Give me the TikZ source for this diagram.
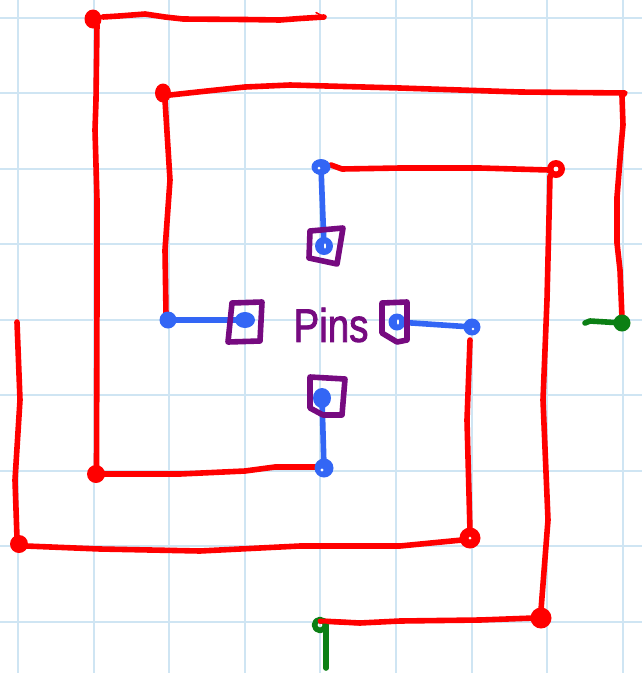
\documentclass[tikz,border=0pt]{standalone}
\usepackage{fontspec}
\setmainfont{Liberation Sans}
\newfontfamily\pinfont[FakeBold=2]{Liberation Sans}
\definecolor{gridc}{HTML}{CFE5F3}
\definecolor{wred}{HTML}{FF0000}
\definecolor{wblue}{HTML}{3366F5}
\definecolor{wpurple}{HTML}{760A80}
\definecolor{wgreen}{HTML}{0B7F14}
\tikzset{
  gridline/.style={draw=gridc,line width=2pt},
  ink/.style={line width=5.6pt,line cap=round,line join=round},
  redwire/.style={ink,draw=wred},
  bluewire/.style={ink,draw=wblue},
  greenwire/.style={ink,draw=wgreen},
  pinbox/.style={ink,draw=wpurple},
  reddot/.style={fill=wred,draw=none},
  bluedot/.style={fill=wblue,draw=none},
  spot/.style={fill=white,draw=none},
}
\begin{document}
\begin{tikzpicture}[x=1pt,y=-1pt]
\useasboundingbox (0,0) rectangle (642,673);
\fill[white] (0,0) rectangle (642,673);
\foreach \gx in {18,94,169,245,320,396,472,547,623} \draw[gridline] (\gx,0) -- (\gx,673);
\foreach \gy in {18,93,169,244,320,395,471,546,622} \draw[gridline] (0,\gy) -- (642,\gy);

\coordinate (a) at (93,19);
\coordinate (b) at (96,474);
\coordinate (c) at (163,93);
\coordinate (d) at (168,320);
\coordinate (e) at (321,167);
\coordinate (f) at (556,169);
\coordinate (g) at (541,618);
\coordinate (h) at (19,544);
\coordinate (i) at (470,538);
\coordinate (j) at (472,327);
\coordinate (k) at (324,468);
\coordinate (m) at (622,323);
\coordinate (n) at (320,625);
\coordinate (pt) at (324,246);
\coordinate (pl) at (245,320);
\coordinate (pr) at (397,322);
\coordinate (pb) at (322,398);

% red wires
\draw[redwire] (103,17) -- (119,16) -- (145,14) -- (165,17) -- (183,19) -- (245,19.5) -- (280,20) -- (300,18.5) -- (324,17);
\draw[redwire,line width=1.5pt] (324,17) -- (316,12.5);
\draw[redwire] (97,25) -- (96,100) -- (95,130) -- (97,200) -- (97,300) -- (96.5,470);
\draw[redwire] (104,474) -- (180,474) -- (245,471) -- (275,467) -- (316,467);
\draw[redwire] (170,95) -- (207,91) -- (245,87) -- (290,85) -- (400,88) -- (520,92) -- (625,93) -- (622,96) -- (623,125) -- (621,147) -- (617,197) -- (617,243) -- (620,270) -- (622,318);
\draw[redwire] (165,100) -- (170,180) -- (165,250) -- (166,314);
\draw[redwire] (331,165) -- (342,169) -- (400,168) -- (480,168) -- (549,170);
\draw[redwire] (550,176) -- (547,300) -- (543,400) -- (548,520) -- (541,610);
\draw[redwire] (534,618) -- (480,620) -- (400,621) -- (360,623) -- (320,621);
\draw[redwire] (17,322) -- (20,400) -- (15,480) -- (17,538);
\draw[redwire] (26,546) -- (100,549) -- (200,551) -- (300,546) -- (400,546) -- (462,540);
\draw[redwire] (470,531) -- (467,420) -- (470,340);

% red dots
\fill[reddot] (a) ellipse (8.5 and 9.5);
\fill[reddot] (b) circle (9);
\fill[reddot] (c) ellipse (8 and 9.5);
\fill[reddot] (h) circle (9);
\fill[reddot] (f) circle (9);
\fill[spot] (f) circle (2.4);
\fill[reddot] (g) circle (10.5);
\fill[reddot] (i) circle (10.5);
\fill[spot] (i) circle (1.5);

% green wires
\draw[greenwire] (585,323) -- (590,321) -- (622,323);
\fill[wgreen] (m) circle (8.5);
\draw[greenwire] (326,625) -- (326,668);
\draw[greenwire] (n) circle (5.5);
\draw[redwire,line width=4.8pt] (320,621) -- (360,623);

% blue wires
\draw[bluewire] (d) -- (pl);
\fill[bluedot] (d) circle (8.5);
\fill[bluedot] (pl) ellipse (10 and 8);
\draw[bluewire] (e) -- (pt);
\fill[bluedot] (e) ellipse (9.5 and 8);
\fill[spot] (319,168) circle (1.5);
\fill[bluedot] (pt) circle (9);
\fill[spot] (325,246) ellipse (1 and 2.6);
\draw[bluewire] (pr) -- (j);
\fill[bluedot] (j) circle (8.5);
\fill[spot] (473,329) circle (1.4);
\fill[bluedot] (pr) circle (8.5);
\fill[spot] (398,322) ellipse (1 and 2.6);
\draw[bluewire] (k) -- (pb);
\fill[bluedot] (k) circle (9.5);
\fill[spot] (322,470) circle (1.6);
\fill[bluedot] (pb) ellipse (9 and 10);

% pin boxes
\draw[pinbox] (310,231) -- (343,228) -- (337,264) -- (309,258) -- cycle;
\draw[pinbox] (232,303) -- (262,302) -- (260,341) -- (228,342) -- cycle;
\draw[pinbox] (382,303) -- (407,302) -- (407,340) -- (397,342) -- (382,333) -- cycle;
\draw[pinbox] (310,377) -- (345,379) -- (342,415) -- (323,415) -- (310,408) -- cycle;

% label
\node[text=wpurple,inner sep=0pt,font=\pinfont\fontsize{47}{47}\selectfont,xscale=0.82] (lbl) at (331,325) {Pins};
\end{tikzpicture}
\end{document}
